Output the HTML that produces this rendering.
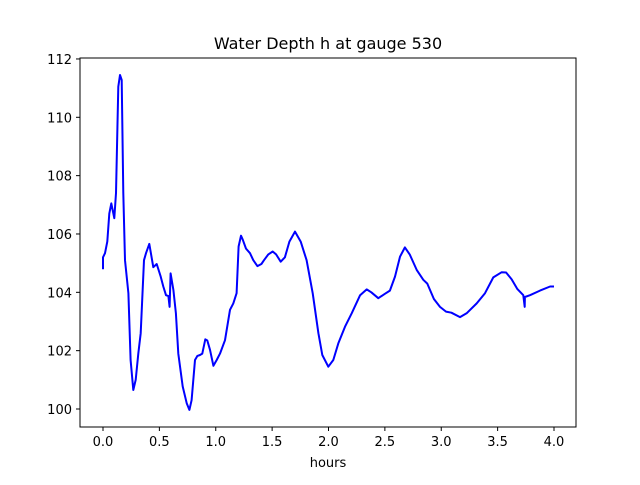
<!DOCTYPE html>
<html><head><meta charset="utf-8"><style>
body{margin:0;background:#fff;font-family:"Liberation Sans","DejaVu Sans",sans-serif}
svg text{font-family:"DejaVu Sans","Liberation Sans",sans-serif;fill:#000}
</style></head><body>
<svg id="chart" width="640" height="480" xmlns="http://www.w3.org/2000/svg">
<rect width="640" height="480" fill="#fff"/>
<text x="328" y="49" font-size="16" text-anchor="middle">Water Depth h at gauge 530</text>
<g id="ticks"></g>
<path id="line" fill="none" stroke="#0000ff" stroke-width="2" stroke-linejoin="round"/>
<rect x="80" y="58" width="496" height="369" fill="none" stroke="#000" stroke-width="1"/>
<text x="328" y="467" font-size="13" text-anchor="middle">hours</text>
</svg>
<script>
const hours=[0,0,0.018,0.038,0.056,0.074,0.1,0.115,0.136,0.151,0.166,0.18,0.195,0.225,0.245,0.269,0.29,0.313,0.334,0.364,0.381,0.411,0.446,0.476,0.512,0.535,0.559,0.58,0.591,0.6,0.624,0.647,0.668,0.707,0.742,0.766,0.786,0.816,0.837,0.86,0.881,0.907,0.925,0.949,0.979,1.008,1.038,1.082,1.126,1.156,1.185,1.203,1.224,1.24,1.268,1.304,1.333,1.369,1.405,1.428,1.466,1.505,1.535,1.576,1.613,1.653,1.703,1.753,1.806,1.86,1.91,1.945,1.998,2.043,2.087,2.146,2.206,2.28,2.339,2.38,2.442,2.5,2.545,2.59,2.634,2.678,2.72,2.782,2.841,2.876,2.935,2.989,3.042,3.09,3.166,3.225,3.314,3.388,3.462,3.536,3.575,3.624,3.675,3.728,3.74,3.742,3.787,3.876,3.965,4.0];
const depth=[104.79,105.2,105.34,105.74,106.7,107.05,106.54,107.4,111.05,111.45,111.28,107.4,105.1,103.97,101.68,100.65,101.0,101.9,102.6,105.1,105.34,105.66,104.86,104.97,104.54,104.2,103.9,103.87,103.5,104.65,104.08,103.28,101.9,100.77,100.2,99.97,100.3,101.68,101.82,101.85,101.9,102.39,102.35,102.03,101.48,101.68,101.9,102.36,103.4,103.62,103.97,105.57,105.94,105.8,105.5,105.34,105.1,104.9,104.97,105.1,105.3,105.4,105.3,105.05,105.2,105.74,106.08,105.74,105.1,103.97,102.6,101.85,101.45,101.68,102.25,102.82,103.28,103.9,104.1,104.0,103.8,103.95,104.06,104.54,105.22,105.54,105.3,104.77,104.43,104.3,103.77,103.5,103.34,103.3,103.15,103.28,103.62,103.97,104.51,104.69,104.68,104.45,104.11,103.9,103.5,103.84,103.9,104.06,104.2,104.2];
const xTicks=[0,0.5,1.0,1.5,2.0,2.5,3.0,3.5,4.0];
const yTicks=[100,102,104,106,108,110,112];
const xTickLabels=["0.0","0.5","1.0","1.5","2.0","2.5","3.0","3.5","4.0"];
const yTickLabels=["100","102","104","106","108","110","112"];
function xs(t){return 103+t*112.75;}
function ys(h){return 409-(h-100)*29.17;}
const NS="http://www.w3.org/2000/svg";
const g=document.getElementById('ticks');
xTicks.forEach((t,i)=>{
 const l=document.createElementNS(NS,'line');
 
 
 l.setAttribute('x1',xs(t));l.setAttribute('x2',xs(t));l.setAttribute('y1',427);l.setAttribute('y2',431);l.setAttribute('stroke','#000');
 g.appendChild(l);
 const tx=document.createElementNS(NS,'text');
 
 
 tx.setAttribute('x',xs(t));tx.setAttribute('y',446);tx.setAttribute('font-size','13');tx.setAttribute('text-anchor','middle');
 tx.textContent=xTickLabels[i];g.appendChild(tx);
});
yTicks.forEach((h,i)=>{
 const l=document.createElementNS(NS,'line');
 
 
 l.setAttribute('x1',76);l.setAttribute('x2',80);l.setAttribute('y1',ys(h));l.setAttribute('y2',ys(h));l.setAttribute('stroke','#000');
 g.appendChild(l);
 const tx=document.createElementNS(NS,'text');
 
 
 tx.setAttribute('x',72);tx.setAttribute('y',ys(h)+5);tx.setAttribute('font-size','13');tx.setAttribute('text-anchor','end');
 tx.textContent=yTickLabels[i];g.appendChild(tx);
});
document.getElementById('line').setAttribute('d',hours.map((t,i)=>(i?'L':'M')+xs(t).toFixed(1)+' '+ys(depth[i]).toFixed(1)).join(' '));
</script>
</body></html>
